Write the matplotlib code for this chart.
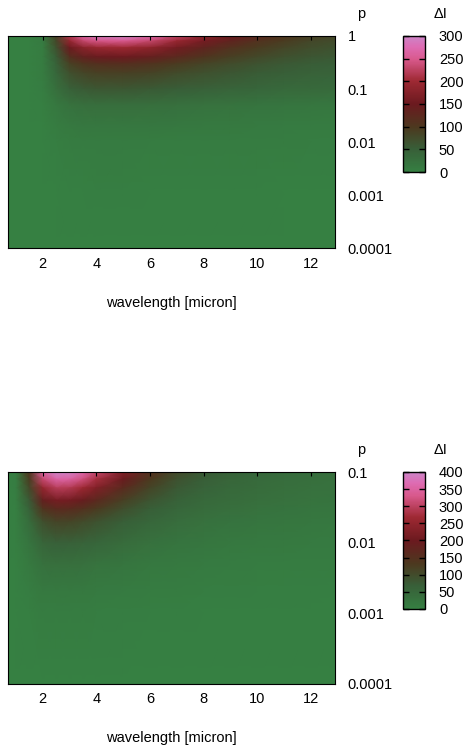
import numpy as np
import matplotlib
matplotlib.use('Agg')
import matplotlib.pyplot as plt
from matplotlib.colors import LinearSegmentedColormap

plt.rcParams['font.family'] = ['Liberation Sans', 'DejaVu Sans']
plt.rcParams['font.size'] = 10.5

# wavelength grid [micron]
wl = [0.7, 1.0, 1.5, 2.0, 2.5, 3.0, 3.5, 4.0, 5.0, 6.0, 7.0, 8.0, 9.0, 10.0, 11.0, 12.0, 12.9]

# upper panel: p from 1 down to 1e-4, delta I values
p_top = [1.0, 0.8, 0.6, 0.4, 0.3, 0.2, 0.1, 0.05, 0.02, 0.01, 0.001, 0.0001]
dI_top = [
    [0, 0, 1, 8, 90, 220, 265, 290, 300, 275, 230, 185, 150, 125, 105, 90, 82],
    [0, 0, 1, 8, 80, 190, 230, 245, 250, 232, 195, 160, 132, 110, 94, 80, 74],
    [0, 0, 1, 7, 68, 150, 180, 195, 200, 185, 158, 132, 110, 94, 82, 72, 66],
    [0, 0, 1, 6, 55, 112, 135, 146, 150, 140, 122, 104, 90, 78, 69, 62, 58],
    [0, 0, 1, 6, 45, 88, 105, 112, 115, 108, 96, 84, 74, 65, 58, 53, 50],
    [0, 0, 1, 5, 38, 70, 82, 88, 90, 85, 76, 68, 61, 55, 50, 46, 44],
    [0, 0, 1, 4, 26, 48, 56, 60, 60, 57, 52, 47, 43, 39, 36, 34, 32],
    [0, 0, 1, 2, 12, 22, 26, 28, 28, 26, 24, 22, 20, 18, 17, 16, 15],
    [0, 0, 0, 1, 6, 11, 13, 14, 14, 13, 12, 11, 10, 9, 8, 8, 7],
    [0, 0, 0, 1, 3, 6, 8, 8, 8, 7, 7, 6, 6, 5, 5, 4, 4],
    [0, 0, 0, 0, 1, 2, 2, 3, 3, 2, 2, 2, 2, 2, 1, 1, 1],
    [0, 0, 0, 0, 0, 0, 0, 0, 0, 0, 0, 0, 0, 0, 0, 0, 0],
]

# lower panel: p from 0.1 down to 1e-4
p_bot = [0.1, 0.08, 0.06, 0.04, 0.03, 0.02, 0.01, 0.005, 0.002, 0.001, 0.0001]
dI_bot = [
    [0, 6, 140, 350, 400, 395, 360, 310, 225, 150, 102, 75, 60, 50, 43, 38, 35],
    [0, 5, 125, 310, 355, 350, 320, 275, 195, 130, 90, 67, 54, 45, 39, 34, 32],
    [0, 5, 105, 255, 295, 290, 265, 228, 162, 110, 78, 59, 48, 40, 35, 31, 29],
    [0, 4, 78, 185, 215, 210, 192, 166, 120, 84, 62, 48, 40, 34, 30, 27, 25],
    [0, 3, 60, 140, 162, 160, 146, 128, 94, 68, 51, 40, 34, 29, 26, 23, 21],
    [0, 3, 42, 95, 112, 110, 100, 88, 66, 50, 38, 31, 26, 23, 20, 18, 17],
    [0, 2, 24, 56, 65, 64, 59, 52, 40, 31, 24, 20, 17, 15, 13, 12, 11],
    [0, 1, 13, 30, 35, 34, 32, 28, 22, 17, 14, 12, 10, 9, 8, 7, 7],
    [0, 1, 6, 13, 15, 15, 14, 12, 10, 8, 7, 6, 5, 4, 4, 4, 3],
    [0, 0, 3, 7, 8, 8, 7, 6, 5, 4, 4, 3, 3, 2, 2, 2, 2],
    [0, 0, 0, 0, 0, 0, 0, 0, 0, 0, 0, 0, 0, 0, 0, 0, 0],
]

# green -> dark -> red -> pink palette
cmap = LinearSegmentedColormap.from_list('gnp', [
    (0.00, (0.21, 0.50, 0.26)),
    (0.17, (0.22, 0.37, 0.22)),
    (0.33, (0.30, 0.22, 0.12)),
    (0.50, (0.42, 0.10, 0.12)),
    (0.67, (0.62, 0.16, 0.20)),
    (0.83, (0.85, 0.35, 0.55)),
    (0.92, (0.87, 0.42, 0.70)),
    (1.00, (0.80, 0.52, 0.78)),
])

fig = plt.figure(figsize=(4.66, 7.48), dpi=100)


def panel(rect, crect, p, dI, ymax, vmax, yticks, yticklabels):
    ax = fig.add_axes(rect)
    X, Y = np.meshgrid(wl, p)
    m = ax.pcolormesh(X, Y, np.array(dI, float), shading='gouraud',
                      cmap=cmap, vmin=0, vmax=vmax)
    ax.set_yscale('log')
    ax.set_xlim(0.7, 12.9)
    ax.set_ylim(1e-4, ymax)
    ax.set_xticks([2, 4, 6, 8, 10, 12])
    ax.tick_params(axis='x', bottom=False, top=True, direction='in',
                   length=3, labelbottom=True, pad=6)
    ax.yaxis.tick_right()
    ax.set_yticks(yticks)
    ax.set_yticklabels(yticklabels)
    ax.yaxis.set_minor_locator(matplotlib.ticker.NullLocator())
    ax.tick_params(axis='y', length=0, pad=9)
    for t in ax.get_yticklabels():
        t.set_horizontalalignment('left')
    ax.set_xlabel('wavelength [micron]', labelpad=18)
    ax.text(1.08, 1.07, 'p', transform=ax.transAxes, ha='center', va='bottom')

    cax = fig.add_axes(crect)
    cb = fig.colorbar(m, cax=cax, ticks=np.arange(0, vmax + 1, 50))
    cb.outline.set_linewidth(1.0)
    cax.yaxis.set_ticks_position('both')
    cax.tick_params(direction='in', length=4, width=1, labelleft=False,
                    labelright=True, pad=10)
    cax.text(1.4, 1.11, '\u0394I', transform=cax.transAxes,
             ha='left', va='bottom')
    return ax


panel([0.017, 0.668, 0.702, 0.284], [0.865, 0.770, 0.047, 0.182],
      p_top, dI_top, 1.0, 300,
      [1, 0.1, 0.01, 0.001, 0.0001], ['1', '0.1', '0.01', '0.001', '0.0001'])
panel([0.017, 0.0856, 0.702, 0.283], [0.865, 0.186, 0.047, 0.183],
      p_bot, dI_bot, 0.1, 400,
      [0.1, 0.01, 0.001, 0.0001], ['0.1', '0.01', '0.001', '0.0001'])

fig.savefig('out.png', dpi=100)
